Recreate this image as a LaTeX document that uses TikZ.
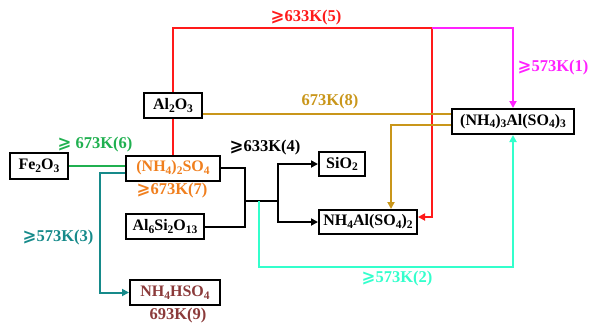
\documentclass[tikz,border=0pt]{standalone}
\usepackage{fontspec}
\usepackage{amssymb}
\setmainfont{Liberation Serif}
\newfontfamily\djv{DejaVu Sans}
\usetikzlibrary{arrows.meta}
\definecolor{cred}{HTML}{FF1A1A}
\definecolor{cmag}{HTML}{FF22FF}
\definecolor{cgold}{HTML}{C9961A}
\definecolor{cgreen}{HTML}{20B050}
\definecolor{cteal}{HTML}{168A8A}
\definecolor{ccyan}{HTML}{33FFCC}
\definecolor{corange}{HTML}{F07F1E}
\definecolor{cbrown}{HTML}{8B3A3A}
\newcommand\sbs[1]{\raisebox{-0.35ex}{\fontsize{11.5}{12}\selectfont #1}}
\newcommand\gq{{\djv\bfseries ⩾}}
\tikzset{
  box/.style={draw=black, line width=2pt, inner sep=0pt, minimum height=25pt, font=\fontsize{16}{17}\selectfont\bfseries},
  lbl/.style={font=\fontsize{16.5}{17}\selectfont\bfseries, inner sep=0pt},
  conn/.style={line width=2pt},
  tip/.style={-{Triangle[length=7pt,width=7pt]}}
}
\begin{document}
\begin{tikzpicture}[x=1pt,y=-1pt]
\useasboundingbox (0,0) rectangle (590,325);
% boxes
\node[box, minimum width=58pt, minimum height=26pt] (fe) at (39,166) {Fe\sbs{2}O\sbs{3}};
\node[box, minimum width=94pt, text=corange] (amsul) at (173,168) {(NH\sbs{4})\sbs{2}SO\sbs{4}};
\node[box, minimum width=58pt] (al) at (173,105.5) {Al\sbs{2}O\sbs{3}};
\node[box, minimum width=78pt] (mul) at (165,226.5) {Al\sbs{6}Si\sbs{2}O\sbs{13}};
\node[box, minimum width=90pt, text=cbrown] (nhs) at (175,292.5) {NH\sbs{4}HSO\sbs{4}};
\node[box, minimum width=46pt, minimum height=24pt] (sio) at (342,164) {SiO\sbs{2}};
\node[box, minimum width=98pt, minimum height=24pt] (nas) at (368,222) {NH\sbs{4}Al(SO\sbs{4})\sbs{2}};
\node[box, minimum width=122pt] (tri) at (513,121.5) {(NH\sbs{4})\sbs{3}Al(SO\sbs{4})\sbs{3}};
% coordinates
\coordinate (rtop) at (432,28);
\coordinate (bx) at (245,201);
\coordinate (fork) at (278,201);
\coordinate (cy) at (259,201);
\coordinate (cybot) at (259,267);
% red
\draw[conn, cred] (al.south) -- (amsul.north);
\draw[conn, cred, tip] (al.north) |- (rtop) |- ([yshift=5pt]nas.east);
% magenta
\draw[conn, cmag, tip] (rtop) -| (tri.north);
% gold
\draw[conn, cgold] ([yshift=-8pt]al.east) -- ([yshift=-8pt]al.east -| tri.west);
\draw[conn, cgold, tip] ([yshift=-3pt]tri.west) -| ([xshift=23pt]nas.north);
% green
\draw[conn, cgreen] (fe.east) -- (fe.east -| amsul.west);
% teal
\draw[conn, cteal, tip] ([yshift=-5pt]amsul.west) -- ++(-25,0) |- (nhs.west);
% black
\draw[conn] (amsul.east) -| (bx) |- (mul.east);
\draw[conn] (bx) -- (fork);
\draw[conn, tip] (fork) |- (sio.west);
\draw[conn, tip] (fork) |- (nas.west);
% cyan
\draw[conn, ccyan, tip] (cy) -- (cybot) -| (tri.south);
% labels
\node[lbl, text=cred] (l5) at (306,18) {\gq633K(5)};
\node[lbl, text=cmag] (l1) at (553,68) {\gq573K(1)};
\node[lbl, text=cgold] (l8) at (330,102) {673K(8)};
\node[lbl, text=cgreen] (l6) at (95,145) {\gq\ 673K(6)};
\node[lbl, text=black] (l4) at (265,148) {\gq633K(4)};
\node[lbl, text=corange] (l7) at (172,191) {\gq673K(7)};
\node[lbl, text=cteal] (l3) at (58,238) {\gq573K(3)};
\node[lbl, text=ccyan] (l2) at (397,279) {\gq573K(2)};
\node[lbl, text=cbrown] (l9) at (178,316) {693K(9)};
\end{tikzpicture}
\end{document}
